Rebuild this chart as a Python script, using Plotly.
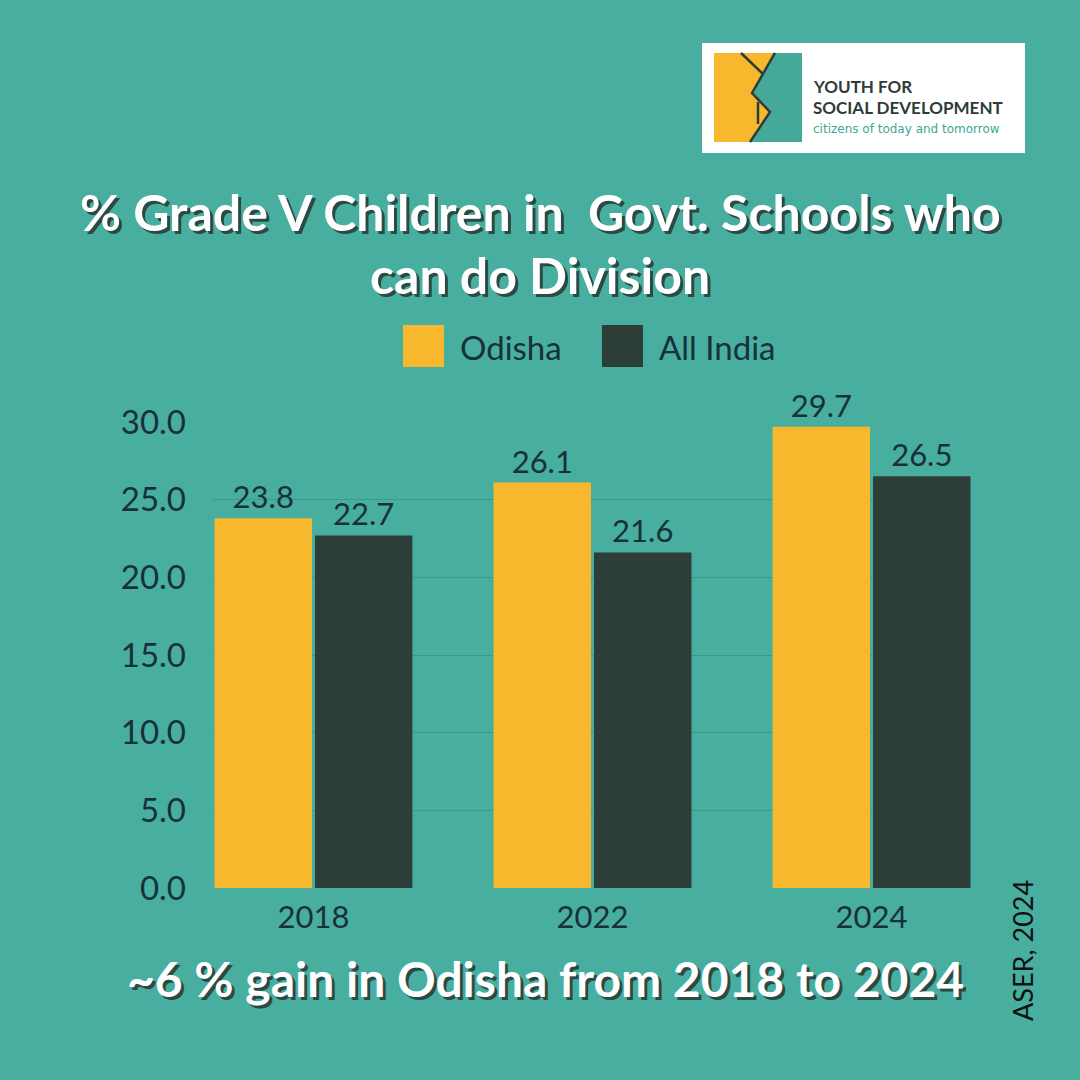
import plotly.graph_objects as go

years = ["2018", "2022", "2024"]
odisha = [23.8, 26.1, 29.7]
all_india = [22.7, 21.6, 26.5]
series_names = ["Odisha", "All India"]
y_ticks = [0, 5, 10, 15, 20, 25, 30]

BG = "#48AE9F"
YEL = "#F8B82D"
DARK = "#2D3D37"
TXT = "#17303A"
W = H = 1080
L, R, T, B = 213, 972, 422, 888


def px(x):
    return (x - L) / (R - L)


def py(y):
    return (B - y) / (B - T)


def path(points):
    s = "M " + " L ".join(f"{px(x):.5f},{py(y):.5f}" for x, y in points) + " Z"
    return s


def polyline(points):
    return "M " + " L ".join(f"{px(x):.5f},{py(y):.5f}" for x, y in points)


fig = go.Figure()
for name, vals, col in [(series_names[0], odisha, YEL), (series_names[1], all_india, DARK)]:
    fig.add_trace(go.Bar(
        x=years, y=vals, name=name, marker=dict(color=col, line=dict(width=0)),
        text=[f"{v:.1f}" for v in vals], textposition="outside",
        textfont=dict(family="Lato", size=31, color=TXT),
        cliponaxis=False, showlegend=False,
    ))

shapes = []
ann = []
# logo box
shapes.append(dict(type="rect", xref="paper", yref="paper", x0=px(702), x1=px(1025), y0=py(153), y1=py(43),
                   fillcolor="white", line=dict(width=0), layer="above"))
shapes.append(dict(type="rect", xref="paper", yref="paper", x0=px(714), x1=px(802), y0=py(142), y1=py(53),
                   fillcolor=YEL, line=dict(width=0), layer="above"))
shapes.append(dict(type="path", xref="paper", yref="paper",
                   path=path([(774, 53), (802, 53), (802, 142), (750, 142), (770, 112), (752, 93)]),
                   fillcolor="#45A99A", line=dict(width=0), layer="above"))
shapes.append(dict(type="path", xref="paper", yref="paper",
                   path=polyline([(775, 53), (752, 93), (770, 112), (750, 142)]),
                   line=dict(color=DARK, width=2.5), layer="above"))
shapes.append(dict(type="path", xref="paper", yref="paper",
                   path=polyline([(741, 53), (763, 74)]),
                   line=dict(color=DARK, width=2.5), layer="above"))
shapes.append(dict(type="path", xref="paper", yref="paper",
                   path=polyline([(758, 102), (758, 124)]),
                   line=dict(color=DARK, width=2.5), layer="above"))
ann.append(dict(xref="paper", yref="paper", x=px(811), y=py(86), xanchor="left", yanchor="middle",
                text="<b>YOUTH FOR</b>", showarrow=False, font=dict(family="Lato", size=17, color="#2E3B3A")))
ann.append(dict(xref="paper", yref="paper", x=px(811), y=py(107), xanchor="left", yanchor="middle",
                text="<b>SOCIAL DEVELOPMENT</b>", showarrow=False, font=dict(family="Lato", size=17, color="#2E3B3A")))
ann.append(dict(xref="paper", yref="paper", x=px(811), y=py(129), xanchor="left", yanchor="middle",
                text="citizens of today and tomorrow", showarrow=False, font=dict(family="DejaVu Sans", size=12, color="#3FA796")))

# title
shadow = "3px 3px 0px #2B4A44"
ann.append(dict(xref="paper", yref="paper", x=px(540), y=py(212), xanchor="center", yanchor="middle",
                text="<b>% Grade V Children in  Govt. Schools who</b>", showarrow=False,
                font=dict(family="Lato", size=50, color="white", shadow=shadow)))
ann.append(dict(xref="paper", yref="paper", x=px(540), y=py(275), xanchor="center", yanchor="middle",
                text="<b>can do Division</b>", showarrow=False,
                font=dict(family="Lato", size=50, color="white", shadow=shadow)))
# legend
for (x0, name, col) in [(403, series_names[0], YEL), (602, series_names[1], DARK)]:
    shapes.append(dict(type="rect", xref="paper", yref="paper", x0=px(x0), x1=px(x0 + 41), y0=py(367), y1=py(325),
                       fillcolor=col, line=dict(width=0)))
    ann.append(dict(xref="paper", yref="paper", x=px(x0 + 55), y=py(347), xanchor="left", yanchor="middle",
                    text=name, showarrow=False, font=dict(family="Lato", size=33, color=TXT)))
# bottom note
ann.append(dict(xref="paper", yref="paper", x=px(545), y=py(978), xanchor="center", yanchor="middle",
                text="<b>~6 % gain in Odisha from 2018 to 2024</b>", showarrow=False,
                font=dict(family="Lato", size=48, color="white", shadow=shadow)))
ann.append(dict(xref="paper", yref="paper", x=px(1022), y=py(951), xanchor="center", yanchor="middle",
                text="ASER, 2024", textangle=-90, showarrow=False,
                font=dict(family="Lato", size=27, color="#111")))

fig.update_layout(
    width=W, height=H,
    margin=dict(l=L, r=W - R, t=T, b=H - B, pad=0),
    paper_bgcolor=BG, plot_bgcolor=BG,
    barmode="group", bargap=0.28, bargroupgap=0.03,
    shapes=shapes, annotations=ann,
    xaxis=dict(type="category", range=[-0.36, 2.36], showgrid=False, zeroline=False, showline=False,
               tickfont=dict(family="Lato", size=31, color=TXT), ticks="", ticklabelstandoff=8),
    yaxis=dict(range=[0, 30], tickvals=y_ticks, tickformat=".1f", showgrid=True, gridcolor="#3C9A8C",
               gridwidth=1.2, zeroline=False, showline=False, ticks="",
               tickfont=dict(family="Lato", size=33, color=TXT), ticklabelstandoff=26),
    showlegend=False,
)

fig.write_html("out.html", config={"displayModeBar": False},
               post_script="document.body.style.margin='0';document.body.style.background='" + BG + "';")
